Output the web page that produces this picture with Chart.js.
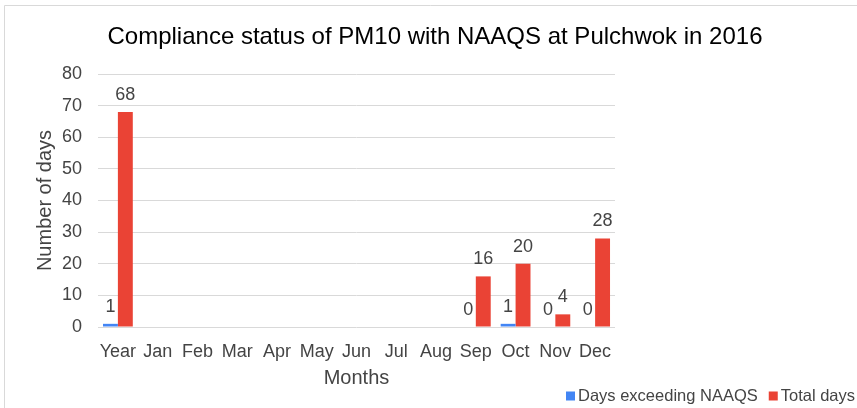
<!DOCTYPE html>
<html>
<head>
<meta charset="utf-8">
<script src="https://cdn.jsdelivr.net/npm/chart.js@4.4.0/dist/chart.umd.min.js"></script>
<style>
  html, body { margin: 0; padding: 0; background: #fff; }
  #wrap { width: 857px; height: 408px; position: relative; }
</style>
</head>
<body>
<div id="wrap"><canvas id="mycanvas" width="857" height="408"></canvas></div>
<script>
// chart data
var months = ['Year', 'Jan', 'Feb', 'Mar', 'Apr', 'May', 'Jun', 'Jul', 'Aug', 'Sep', 'Oct', 'Nov', 'Dec'];
var daysExceeding = [1, null, null, null, null, null, null, null, null, 0, 1, 0, 0];
var totalDays = [68, null, null, null, null, null, null, null, null, 16, 20, 4, 28];
var seriesNames = ['Days exceeding NAAQS', 'Total days'];
var seriesColors = ['#4285F4', '#EA4335'];
var chartTitle = 'Compliance status of PM10 with NAAQS at Pulchwok in 2016';

var FONT = 'Arial, "Liberation Sans", sans-serif';

// value labels, title, legend and frame drawn by hand
var extras = {
	id: 'extras',
	afterDatasetsDraw: function(chart) {
		var ctx = chart.ctx;
		ctx.save();
		ctx.font = '18px ' + FONT;
		ctx.fillStyle = '#444444';
		ctx.textAlign = 'center';
		ctx.textBaseline = 'alphabetic';
		chart.data.datasets.forEach(function(ds, i) {
			var meta = chart.getDatasetMeta(i);
			meta.data.forEach(function(bar, j) {
				var v = ds.data[j];
				if (v === null || v === undefined) return;
				ctx.fillText(String(v), bar.x, bar.y - 12);
			});
		});
		ctx.restore();
	},
	afterDraw: function(chart) {
		var ctx = chart.ctx;
		ctx.save();
		// frame
		ctx.strokeStyle = '#d9d9d9';
		ctx.lineWidth = 1;
		ctx.beginPath();
		ctx.moveTo(4.5, 408);
		ctx.lineTo(4.5, 5.5);
		ctx.lineTo(857, 5.5);
		ctx.stroke();
		// title
		ctx.fillStyle = '#000000';
		ctx.font = '24px ' + FONT;
		ctx.textAlign = 'center';
		ctx.textBaseline = 'middle';
		ctx.fillText(chartTitle, 435, 37);
		// legend
		ctx.font = '16.5px ' + FONT;
		ctx.textAlign = 'left';
		ctx.textBaseline = 'middle';
		var x = 566;
		var y = 396;
		seriesNames.forEach(function(name, i) {
			ctx.fillStyle = seriesColors[i];
			ctx.fillRect(x, y - 4.5, 9, 9);
			ctx.fillStyle = '#444444';
			ctx.fillText(name, x + 12, y);
			x += 12 + ctx.measureText(name).width + 11;
		});
		ctx.restore();
	}
};

var ctx = document.getElementById('mycanvas');

var barGraph = new Chart(ctx, {
	type: 'bar',
	data: {
		labels: months,
		datasets: [
			{
				label: seriesNames[0],
				backgroundColor: seriesColors[0],
				data: daysExceeding
			},
			{
				label: seriesNames[1],
				backgroundColor: seriesColors[1],
				data: totalDays
			}
		]
	},
	options: {
		responsive: false,
		animation: false,
		layout: { padding: { left: 0, right: 242, top: 74, bottom: 0 } },
		datasets: {
			bar: { categoryPercentage: 0.75, barPercentage: 1.0 }
		},
		plugins: {
			legend: { display: false },
			title: { display: false },
			tooltip: { enabled: false }
		},
		scales: {
			x: {
				grid: { display: false },
				border: { display: false },
				ticks: { color: '#444444', font: { family: FONT, size: 18 }, padding: 6, maxRotation: 0, autoSkip: false },
				title: { display: true, text: 'Months', color: '#444444', font: { family: FONT, size: 20 }, padding: { top: 0, bottom: 18 } },
				afterFit: function(scale) { scale.height = 81; }
			},
			y: {
				min: 0,
				max: 80,
				ticks: { stepSize: 10, color: '#444444', font: { family: FONT, size: 18 }, padding: 16 },
				grid: { color: '#d9d9d9', lineWidth: 1, drawTicks: false },
				border: { display: false },
				title: { display: true, text: 'Number of days', color: '#444444', font: { family: FONT, size: 20 }, padding: { top: 33, bottom: 0 } },
				afterFit: function(scale) { scale.width = 98; }
			}
		}
	},
	plugins: [extras]
});
</script>
</body>
</html>
